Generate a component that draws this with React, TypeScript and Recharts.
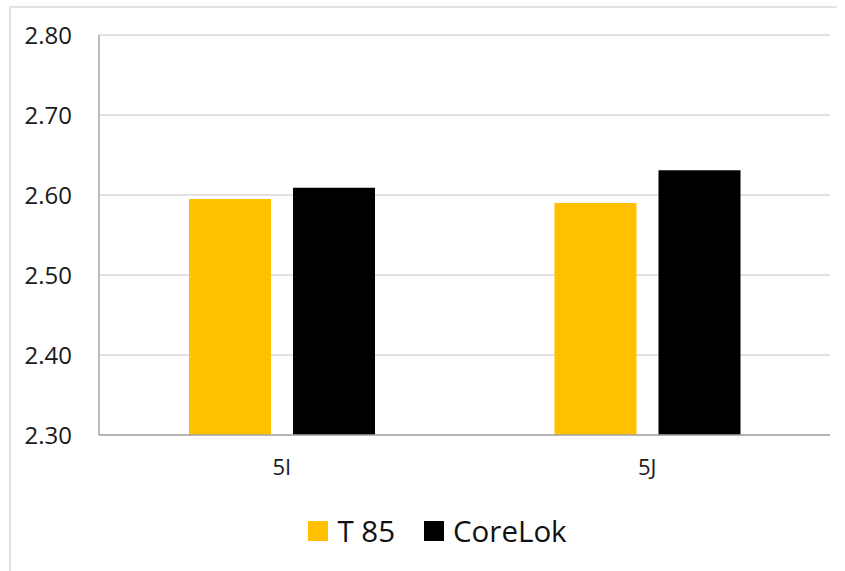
import { BarChart, Bar, XAxis, YAxis, CartesianGrid } from 'recharts';

const categories = ['5I', '5J'];
const t85 = [2.595, 2.59];
const coreLok = [2.609, 2.631];
const yTicks = [2.3, 2.4, 2.5, 2.6, 2.7, 2.8];

const series = [
  { key: 't85', name: 'T 85', color: '#FFC000' },
  { key: 'coreLok', name: 'CoreLok', color: '#000000' },
];

const data = categories.map((cat, i) => ({ cat, t85: t85[i], coreLok: coreLok[i] }));

const font = '"Open Sans", sans-serif';

export default function App() {
  return (
    <div style={{ position: 'absolute', left: 0, top: 0, width: 845, height: 571, background: '#fff', fontFamily: font }}>
      {/* frame edges */}
      <div style={{ position: 'absolute', left: 9, top: 6, width: 826, height: 565, borderTop: '2px solid #e3e3e3', borderLeft: '2px solid #e3e3e3' }} />

      <BarChart
        width={845}
        height={571}
        data={data}
        margin={{ top: 35, right: 15, left: 0, bottom: 96 }}
        barGap={22}
        barSize={82}
        style={{ position: 'absolute', left: 0, top: 0 }}
      >
        <CartesianGrid vertical={false} stroke="#d9d9d9" strokeWidth={1.5} />
        <XAxis
          dataKey="cat"
          height={40}
          axisLine={{ stroke: '#a6a6a6', strokeWidth: 1.5 }}
          tickLine={false}
          tickMargin={18}
          fontSize={22}
          tick={{ fontSize: 22, fill: '#1a1a1a', fontFamily: font }}
        />
        <YAxis
          width={99}
          domain={[2.3, 2.8]}
          ticks={yTicks}
          interval={0}
          allowDataOverflow
          axisLine={{ stroke: '#a6a6a6', strokeWidth: 1.5 }}
          tickLine={false}
          tickMargin={21}
          fontSize={24}
          tickFormatter={(v: number) => v.toFixed(2)}
          tick={{ fontSize: 24, fill: '#1a1a1a', fontFamily: font }}
        />
        {series.map(s => (
          <Bar key={s.key} dataKey={s.key} name={s.name} fill={s.color} isAnimationActive={false} />
        ))}
      </BarChart>

      {/* legend */}
      <div style={{ position: 'absolute', left: 15, top: 511, width: 845, display: 'flex', justifyContent: 'center', alignItems: 'center', gap: 29 }}>
        {series.map(s => (
          <div key={s.key} style={{ display: 'flex', alignItems: 'center', gap: 9 }}>
            <span style={{ width: 20, height: 20, background: s.color, display: 'inline-block' }} />
            <span style={{ fontSize: 29.5, color: '#111', lineHeight: '40px' }}>{s.name}</span>
          </div>
        ))}
      </div>
    </div>
  );
}
